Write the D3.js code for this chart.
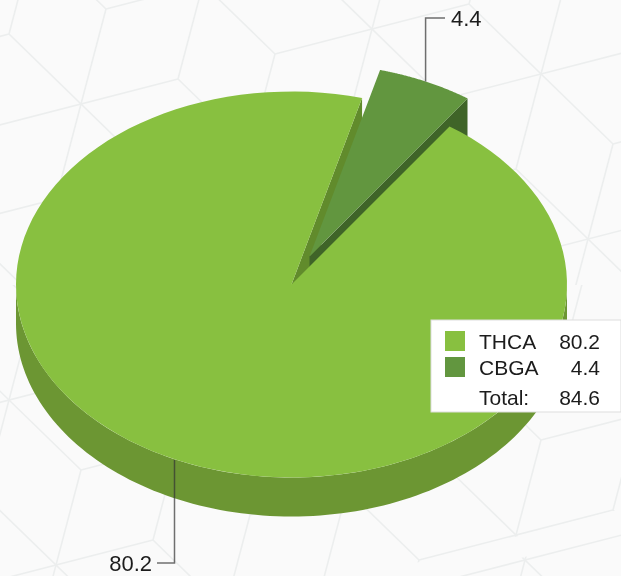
<!DOCTYPE html>
<html>
<head>
<meta charset="utf-8">
<script src="https://cdn.jsdelivr.net/npm/d3@7"></script>
<style>
  html, body { margin: 0; padding: 0; background: #fafafa; }
  svg { display: block; font-family: "Liberation Sans", Arial, sans-serif; filter: blur(0.5px); }
</style>
</head>
<body>
<svg id="chart" width="621" height="576"></svg>
<script>
// 3D-looking exploded pie, projected onto an ellipse.

const CATEGORIES = ['THCA', 'CBGA'];
const VALUES = [80.2, 4.4];
const TOP_COLORS = ['#88c040', '#62963f'];
const RIM_COLORS = ['#6c9633', '#3f6428'];
const CUT_COLOR = '#618b2c';
const TOTAL_LABEL = 'Total:';

const W = 621, H = 576;
const cx = 291.5, cy = 284.5, rx = 275.5, ry = 193, depth = 39;
const rad = deg => deg * Math.PI / 180;
const EXPLODE = { x: 18, y: -28 };
const INK = '#1c1c1c';

const svg = d3.select('#chart');
svg.append('rect').attr('width', W).attr('height', H).attr('fill', '#fafafa');

// background cube pattern: the wallpaper has seams, so three patches
const PATCHES = [
  { origin: [81, 104], clip: [[0, 0], [W, 0], [W, 285], [0, 285]] },
  { origin: [56, 565], clip: [[0, 285], [W, 285], [W, 509], [366, H], [0, H]] },
  { origin: [525, 560], clip: [[451, H], [W, 532], [W, H]] }
];

function drawLattice(patch, idx) {
  const a = [97, -25], b = [25, -95];
  const clipId = `patch-${idx}`;
  svg.append('clipPath').attr('id', clipId).append('polygon')
    .attr('points', patch.clip.join(' '));
  const g = svg.append('g').attr('clip-path', `url(#${clipId})`)
    .attr('stroke', '#eceeee').attr('stroke-width', 1.6).attr('fill', 'none');
  const spokes = [a, b, [b[0] - a[0], b[1] - a[1]]];
  for (let m = -7; m <= 7; m++) {
    for (let n = -7; n <= 7; n++) {
      const px = patch.origin[0] + m * (a[0] + b[0]) + n * (2 * a[0] - b[0]);
      const py = patch.origin[1] + m * (a[1] + b[1]) + n * (2 * a[1] - b[1]);
      spokes.forEach(s => {
        g.append('line').attr('x1', px - s[0]).attr('y1', py - s[1])
          .attr('x2', px + s[0]).attr('y2', py + s[1]);
      });
    }
  }
}
PATCHES.forEach(drawLattice);

const arcs = d3.pie().sort(null)
  .startAngle(rad(35)).endAngle(rad(35) + 2 * Math.PI)
  .padAngle(rad(1.6))(VALUES);
const thca = arcs[0], cbga = arcs[1];

const pt = (ang, ox, oy) => [cx + ox + rx * Math.sin(ang), cy + oy - ry * Math.cos(ang)];

function rimPoints(a0, a1, ox, oy) {
  return d3.range(0, 121).map(i => pt(a0 + (a1 - a0) * i / 120, ox, oy));
}

function topFace(d, ox, oy) {
  return [[cx + ox, cy + oy], ...rimPoints(d.startAngle, d.endAngle, ox, oy)];
}

const line = d3.line().curve(d3.curveLinearClosed);

// outer wall of the big slice, only the front half shows
const front = rimPoints(Math.PI / 2, 1.5 * Math.PI, 0, 0);
svg.append('path')
  .attr('d', line([...front, ...front.slice().reverse().map(p => [p[0], p[1] + depth])]))
  .attr('fill', RIM_COLORS[0]);

// cut face of the big slice, seen through the gap
const cutEdge = pt(thca.endAngle, 0, 0);
svg.append('path')
  .attr('d', line([[cx, cy], cutEdge, [cutEdge[0], cutEdge[1] + depth], [cx, cy + depth]]))
  .attr('fill', CUT_COLOR);

// exploded slice: wall, then top
const inner = [cx + EXPLODE.x, cy + EXPLODE.y];
const cbgaEnd = pt(cbga.endAngle, EXPLODE.x, EXPLODE.y);
svg.append('path')
  .attr('d', line([inner, cbgaEnd, [cbgaEnd[0], cbgaEnd[1] + depth], [inner[0], inner[1] + depth]]))
  .attr('fill', RIM_COLORS[1]);
svg.append('path').attr('d', line(topFace(cbga, EXPLODE.x, EXPLODE.y))).attr('fill', TOP_COLORS[1]);

svg.append('path').attr('d', line(topFace(thca, 0, 0))).attr('fill', TOP_COLORS[0]);

// callouts
const leader = d3.line();
const labels = svg.append('g');
const midCbga = pt((cbga.startAngle + cbga.endAngle) / 2, EXPLODE.x, EXPLODE.y);
labels.append('path').attr('fill', 'none').attr('stroke', '#555').attr('stroke-width', 1.5).attr('opacity', 0.85)
  .attr('d', leader([midCbga, [midCbga[0], 18], [445, 18]]));
labels.append('text').attr('x', 451).attr('y', 26).attr('font-size', 22).attr('fill', INK)
  .text(VALUES[1].toFixed(1));

const lx = 174.5;
labels.append('path').attr('fill', 'none').attr('stroke', '#333').attr('stroke-width', 1.5).attr('opacity', 0.7)
  .attr('d', leader([[lx, 460], [lx, 563], [157, 563]]));
labels.append('text').attr('x', 152).attr('y', 571).attr('text-anchor', 'end').attr('font-size', 22).attr('fill', INK)
  .text(VALUES[0].toFixed(1));

// legend
const legend = svg.append('g').attr('transform', 'translate(431,320)');
legend.append('rect').attr('width', 190).attr('height', 92).attr('fill', '#fff').attr('stroke', '#ddd');
const rowY = d3.scalePoint().domain(CATEGORIES).range([21, 47]);
CATEGORIES.forEach((c, i) => {
  legend.append('rect').attr('x', 14).attr('y', rowY(c) - 10).attr('width', 20).attr('height', 20).attr('fill', TOP_COLORS[i]);
  legend.append('text').attr('x', 48).attr('y', rowY(c) + 8).attr('font-size', 21).attr('fill', INK).text(c);
  legend.append('text').attr('x', 169).attr('y', rowY(c) + 8).attr('text-anchor', 'end').attr('font-size', 21).attr('fill', INK).text(VALUES[i].toFixed(1));
});
legend.append('text').attr('x', 48).attr('y', 85).attr('font-size', 21).attr('fill', INK).text(TOTAL_LABEL);
legend.append('text').attr('x', 169).attr('y', 85).attr('text-anchor', 'end').attr('font-size', 21).attr('fill', INK)
  .text(d3.sum(VALUES).toFixed(1));
</script>
</body>
</html>
